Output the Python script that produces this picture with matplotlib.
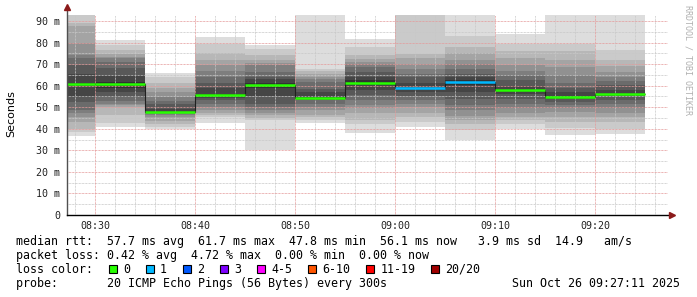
import numpy as np
import matplotlib.pyplot as plt
from matplotlib.patches import Rectangle

# smokeping style graph, 5 minute steps, 20 pings per step
block_start = ["08:25", "08:30", "08:35", "08:40", "08:45", "08:50",
               "08:55", "09:00", "09:05", "09:10", "09:15", "09:20"]
median_ms = [60.7, 60.8, 47.8, 55.6, 60.5, 54.5, 61.2, 58.7, 61.7, 58.2, 54.8, 56.1]
loss = [0, 0, 0, 0, 0, 0, 0, 1, 1, 0, 0, 0]

# sorted ping times (ms) of each step
pings = [
    [36.6, 38.6, 40.1, 43.2, 45.5, 47.1, 48.6, 52.5, 54.8, 60.5, 61.0, 65.6, 69.5, 72.6, 74.1, 80.0, 87.5, 89.1, 92.8, 95.0],
    [40.6, 42.5, 46.3, 50.2, 51.0, 51.7, 53.0, 54.8, 57.0, 59.1, 61.7, 65.0, 68.0, 71.0, 72.6, 73.5, 74.5, 76.4, 79.0, 81.1],
    [39.7, 41.0, 42.1, 43.7, 45.5, 46.5, 47.2, 47.5, 47.7, 47.8, 48.0, 49.0, 51.3, 52.9, 54.8, 57.1, 59.1, 61.0, 63.8, 65.9],
    [42.8, 45.5, 46.3, 47.4, 48.6, 50.0, 51.5, 53.3, 54.5, 55.2, 56.0, 58.7, 61.0, 64.1, 66.8, 69.5, 71.8, 75.0, 79.5, 82.6],
    [30.1, 44.0, 45.0, 46.3, 47.1, 48.6, 50.2, 51.7, 55.0, 59.0, 61.0, 63.0, 64.1, 66.4, 69.5, 70.3, 71.8, 74.1, 77.2, 78.7],
    [42.5, 44.0, 45.5, 46.3, 48.6, 50.2, 51.5, 53.3, 54.0, 54.5, 55.0, 57.1, 58.5, 61.8, 63.3, 64.1, 65.6, 67.0, 67.9, 95.0],
    [38.1, 42.1, 44.0, 47.1, 49.4, 51.0, 53.3, 55.5, 58.0, 60.2, 62.5, 64.0, 66.4, 68.7, 70.0, 71.0, 72.5, 74.1, 78.0, 81.5],
    [40.9, 43.0, 45.5, 47.1, 50.2, 51.5, 53.3, 55.0, 57.0, 58.5, 59.0, 61.0, 64.1, 65.5, 67.9, 70.0, 72.6, 74.9, 95.0, 97.0],
    [34.7, 39.4, 42.0, 44.0, 46.0, 48.6, 51.0, 54.0, 57.0, 60.5, 62.5, 64.0, 65.6, 67.9, 70.0, 71.8, 75.0, 78.0, 82.9, 95.0],
    [39.7, 42.0, 44.0, 45.5, 47.1, 49.5, 51.7, 54.0, 56.0, 58.0, 58.5, 60.0, 62.5, 64.8, 67.0, 69.5, 72.6, 76.0, 79.5, 84.1],
    [37.0, 40.2, 43.0, 45.5, 47.8, 49.5, 50.9, 52.5, 53.8, 54.5, 55.0, 57.0, 59.0, 61.0, 65.0, 68.7, 72.0, 76.0, 79.5, 95.0],
    [37.8, 40.0, 43.0, 45.5, 47.5, 49.5, 51.7, 53.5, 55.0, 56.0, 56.3, 58.0, 60.2, 62.0, 64.0, 66.5, 69.0, 72.0, 76.7, 95.0],
]

loss_labels = ["0", "1", "2", "3", "4-5", "6-10", "11-19", "20/20"]
loss_colors = ["#26ff00", "#00b8ff", "#0059ff", "#7e00ff", "#ff00ff", "#ff5500", "#ff0000", "#a00000"]

legend_lines = [
    "median rtt:  57.7 ms avg  61.7 ms max  47.8 ms min  56.1 ms now   3.9 ms sd  14.9   am/s",
    "packet loss: 0.42 % avg  4.72 % max  0.00 % min  0.00 % now",
]
probe_text = "probe:       20 ICMP Echo Pings (56 Bytes) every 300s"
stamp = "Sun Oct 26 09:27:11 2025"

step = 5
def to_min(t):
    h, m = t.split(":")
    return (int(h) - 8) * 60 + int(m)

starts = np.array([to_min(t) for t in block_start])

W, H = 697, 297
fig = plt.figure(figsize=(W / 100, H / 100), dpi=100)
fig.patch.set_facecolor("white")

# plot area in pixels: x 67..668, y 215 (0 ms) .. 14.5
ax = fig.add_axes([67 / W, (H - 215) / H, (668 - 67) / W, (215 - 14.5) / H])
x0, x1 = 27.2, 87.3
ax.set_xlim(x0, x1)
ax.set_ylim(0, 93.0)
for s in ax.spines.values():
    s.set_visible(False)

# smoke: pair i <-> 21-i, outer light, inner dark
for st, p in zip(starts, pings):
    p = sorted(p)
    half = len(p) // 2
    for i in range(half):
        g = int(190 / half * (half - 1 - i)) + 50
        col = "#%02x%02x%02x" % (g, g, g)
        ax.bar(st, p[-1 - i] - p[i], bottom=p[i], width=step, align="edge",
               color=col, linewidth=0, zorder=1)

# grid (drawn on top of the smoke like rrdtool does)
dots = (0, (0.72, 0.72))
for m in np.arange(28, 87, 2):
    if m % 10 == 0:
        continue
    ax.axvline(m, color="#c8c8c8", lw=0.72, ls=dots, zorder=2)
for v in np.arange(5, 93, 10):
    ax.axhline(v, color="#c8c8c8", lw=0.72, ls=dots, zorder=2)
for m in range(30, 90, 10):
    ax.axvline(m, color="#e59a9a", lw=0.72, ls=dots, zorder=2)
for v in range(10, 100, 10):
    ax.axhline(v, color="#e59a9a", lw=0.72, ls=dots, zorder=2)

# median: thin dark step line plus loss coloured segments
edges = np.append(starts, starts[-1] + step)
ax.stairs(median_ms, edges, color="#202020", lw=0.8, zorder=3, baseline=None)
for st, med, l in zip(starts, median_ms, loss):
    ax.hlines(med, st, st + step, color=loss_colors[l], lw=1.8, zorder=4)

# axes with arrows
ax.plot([x0, x0], [0, 96.0], color="#505050", lw=1, clip_on=False, zorder=5)
ax.plot([x0, 87.6], [0, 0], color="black", lw=1, clip_on=False, zorder=5)
ax.plot([x0], [96.3], marker="^", ms=4.5, color="#8b1a1a", clip_on=False, zorder=6)
ax.plot([87.7], [0], marker=">", ms=4.5, color="#8b1a1a", clip_on=False, zorder=6)

ax.set_xticks(range(30, 90, 10))
ax.set_xticklabels(["%02d:%02d" % (8 + m // 60, m % 60) for m in range(30, 90, 10)])
ax.set_yticks(range(0, 100, 10))
ax.set_yticklabels(["0"] + ["%d m" % v for v in range(10, 100, 10)])
ax.tick_params(length=0, labelsize=7.2, colors="#222222")
ax.tick_params(axis="x", pad=4)
ax.tick_params(axis="y", pad=5)
for lab in ax.get_xticklabels() + ax.get_yticklabels():
    lab.set_fontfamily("DejaVu Sans Mono")

# text overlay in pixel coordinates
ov = fig.add_axes([0, 0, 1, 1])
ov.set_xlim(0, W)
ov.set_ylim(H, 0)
ov.axis("off")
ov.patch.set_alpha(0)

mono = dict(fontfamily="DejaVu Sans Mono", fontsize=8.4, color="black", va="center")
ov.text(11, 114, "Seconds", rotation=90, ha="center", va="center",
        fontsize=8, fontfamily="DejaVu Sans")
ov.text(688, 5, "RRDTOOL / TOBI OETIKER", rotation=270, ha="center", va="top",
        fontsize=6, fontfamily="DejaVu Sans Mono", color="#b0b0b0")

ov.text(16, 241.3, legend_lines[0], ha="left", **mono)
ov.text(16, 255.3, legend_lines[1], ha="left", **mono)
ov.text(16, 269.3, "loss color:", ha="left", **mono)
cw = 7.03
bx = 108.5
for lbl, col in zip(loss_labels, loss_colors):
    ov.add_patch(Rectangle((bx, 265), 8, 8, facecolor=col, edgecolor="black", lw=0.8))
    ov.text(bx + 14.6, 269.3, lbl, ha="left", **mono)
    bx = bx + 14.6 + len(lbl) * cw + 15.4
ov.text(16, 283.3, probe_text, ha="left", **mono)
ov.text(680, 283.3, stamp, ha="right", **mono)

fig.savefig("out.png", dpi=100)
